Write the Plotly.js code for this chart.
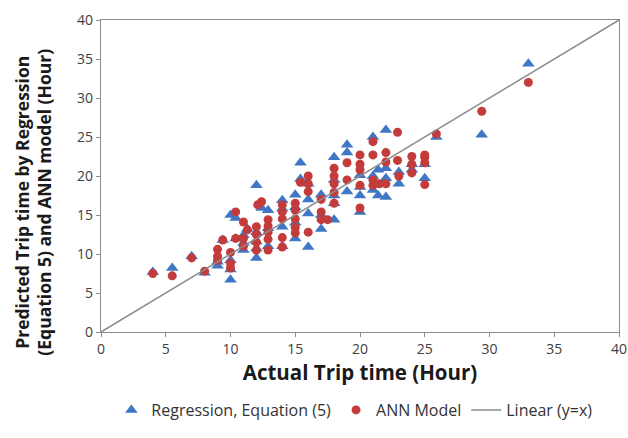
<!DOCTYPE html>
<html>
<head>
<meta charset="utf-8">
<script src="https://cdn.plot.ly/plotly-3.0.1.min.js"></script>
<style>html,body{margin:0;padding:0;background:#fff;}#chart{width:628px;height:438px;}</style>
</head>
<body>
<div id="chart"></div>
<script>
// Regression, Equation (5): actual vs predicted
const regActual = [4,5.5,7,8,9,9,9.4,10,10,10,10,10.4,10.4,11,11,11,11.3,12,12,12,12,12,12.4,12.9,12.9,12.9,14,14,14,14,15,15,15,15,15.4,15.4,16,16,16,16,17,17,17,18,18,18,18,18,19,19,19,20,20,20,20,21,21,21,21.4,21.4,22,22,22,22,23,23,24,24,25,25,25.9,29.4,33];
const regPred   = [7.7,8.2,9.7,7.6,9.0,8.5,11.8,6.7,8.0,9.2,15.0,12.0,14.6,12.4,10.5,11.4,13.2,18.8,9.5,10.7,11.6,12.8,15.9,15.6,13.3,11.0,16.9,13.5,15.8,11.0,17.6,12.0,14.0,16.0,21.7,19.6,19.0,10.9,15.2,17.0,17.6,15.0,13.2,22.4,14.4,17.5,19.5,16.5,24.0,23.0,18.0,20.1,15.4,17.5,18.6,25.0,20.0,18.2,20.8,17.5,25.9,19.7,17.3,21.0,20.5,19.0,20.8,21.5,19.7,21.5,25.0,25.3,34.4];
// ANN Model: actual vs predicted
const annActual = [4,5.5,7,8,9,9,9,9.4,10,10,10,10.4,10.4,11,11,11,11.3,12,12,12,12,12.1,12.4,12.9,12.9,12.9,12.9,12.9,14,14,14,14,14,15,15,15,15,15,15.4,16,16,16,16,17,17,17,17.5,18,18,18,18,18,19,19,20,20,20,20,20,21,21,21,21,21.5,22,22,22,22.9,22.9,23,24,24,24,25,25,25,25,25.9,29.4,33];
const annPred   = [7.5,7.2,9.5,7.8,10.6,9.7,9.2,11.8,8.2,8.8,10.2,15.4,12.0,14.1,12.0,11.0,13.1,13.5,12.5,11.5,10.5,16.3,16.7,14.4,13.6,12.8,11.9,10.5,16.3,15.4,12.1,10.9,14.5,16.5,15.6,14.5,13.4,12.7,19.2,20.0,18.0,12.8,19.0,17.0,15.4,14.4,14.4,21.0,20.0,19.0,17.9,16.5,21.7,19.5,22.7,21.5,20.8,15.9,18.8,22.7,24.4,19.5,18.8,19.0,23.0,21.8,19.0,25.6,22.0,20.0,22.5,21.5,20.4,22.4,21.7,18.9,22.7,25.4,28.3,32.0];
// Linear (y=x) reference line
const lineX = [0,40];
const lineY = [0,40];
const tickVals = [0,5,10,15,20,25,30,35,40];
const yTitle = 'Predicted Trip time by Regression<br>(Equation 5) and ANN model (Hour)';

const font = "'Open Sans', sans-serif";
const traces = [
  {x: regActual, y: regPred, type:'scatter', mode:'markers', name:'Regression, Equation (5)',
   marker:{symbol:'triangle-up', size:11, color:'#3F77C4'}},
  {x: annActual, y: annPred, type:'scatter', mode:'markers', name:'ANN Model',
   marker:{symbol:'circle', size:9, color:'#C33B3B'}},
  {x: lineX, y: lineY, type:'scatter', mode:'lines', name:'Linear (y=x)',
   line:{color:'#8C8C8C', width:1.5}}
];
const axisCommon = {
  range:[0,40], tickvals:tickVals, showgrid:false, zeroline:false,
  showline:true, linecolor:'#8C8C8C', linewidth:1.3, mirror:true,
  ticks:'outside', ticklen:4, tickcolor:'#8C8C8C',
  tickfont:{family:font, size:14, color:'#404040'}
};
const layout = {
  width:628, height:438,
  margin:{l:101, r:9, t:20, b:106},
  paper_bgcolor:'#fff', plot_bgcolor:'#fff',
  font:{family:font},
  xaxis: Object.assign({}, axisCommon, {
    title:{text:'Actual Trip time (Hour)', font:{family:font, size:20.5, color:'#1a1a1a', weight:'bold'}, standoff:7}
  }),
  yaxis: Object.assign({}, axisCommon),
  annotations:[{
    text: yTitle, xref:'paper', yref:'paper', x:-0.131, y:0.415,
    xanchor:'center', yanchor:'middle', textangle:-90, showarrow:false,
    font:{family:font, size:17.5, color:'#1a1a1a', weight:'bold'}
  }],
  showlegend:true,
  legend:{orientation:'h', x:0.02, xanchor:'left', y:-0.25, yanchor:'middle',
    font:{family:font, size:16, color:'#333'}, itemwidth:30, traceorder:'normal'}
};
Plotly.newPlot('chart', traces, layout, {displayModeBar:false, staticPlot:true});
</script>
</body>
</html>
